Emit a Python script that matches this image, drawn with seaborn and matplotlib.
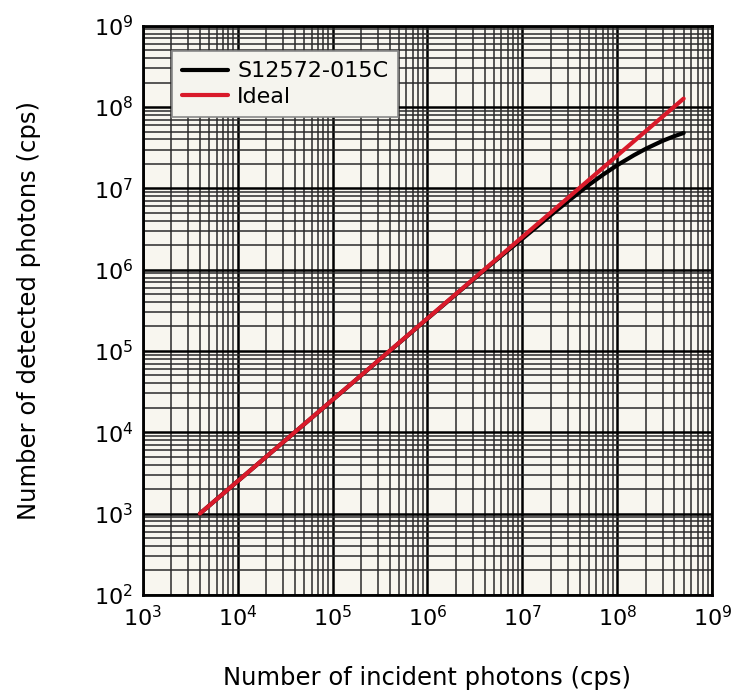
import numpy as np
import pandas as pd
import matplotlib
matplotlib.use("Agg")
import matplotlib.pyplot as plt
import matplotlib.ticker as mticker
import seaborn as sns

# 读取图中的数据点
incident_sipm = [4e3, 1e4, 1e5, 1e6, 5e6, 1e7, 2e7, 3e7, 5e7, 7e7, 1e8, 1.5e8, 2e8, 3e8, 4e8, 5e8]
detected_sipm = [1e3, 2.5e3, 2.5e4, 2.5e5, 1.24e6, 2.4e6, 4.7e6, 6.9e6, 1.1e7, 1.46e7, 1.93e7, 2.56e7, 3.07e7, 3.84e7, 4.39e7, 4.8e7]
incident_ideal = [4e3, 5e8]
detected_ideal = [1e3, 1.27e8]
series_names = ["S12572-015C", "Ideal"]
x_ticks = [1e3, 1e4, 1e5, 1e6, 1e7, 1e8, 1e9]
y_ticks = [1e2, 1e3, 1e4, 1e5, 1e6, 1e7, 1e8, 1e9]

df = pd.concat([
    pd.DataFrame({"incident": incident_sipm, "detected": detected_sipm, "series": series_names[0]}),
    pd.DataFrame({"incident": incident_ideal, "detected": detected_ideal, "series": series_names[1]}),
])

sns.set_style("ticks")
plt.rcParams["font.family"] = ["DejaVu Sans"]
plt.rcParams["text.color"] = "black"
plt.rcParams["axes.labelcolor"] = "black"
plt.rcParams["xtick.color"] = "black"
plt.rcParams["ytick.color"] = "black"

fig = plt.figure(figsize=(7.32, 6.95), dpi=100)
ax = fig.add_axes([0.195, 0.144, 0.778, 0.819])
ax.set_facecolor("#f8f6ef")

sns.lineplot(data=df, x="incident", y="detected", hue="series",
             palette={"S12572-015C": "black", "Ideal": "#d91a2a"},
             linewidth=3.0, ax=ax, sort=False, estimator=None)

ax.set_xscale("log")
ax.set_yscale("log")
ax.set_xlim(1e3, 1e9)
ax.set_ylim(1e2, 1e9)

ax.xaxis.set_major_locator(mticker.FixedLocator(x_ticks))
ax.yaxis.set_major_locator(mticker.FixedLocator(y_ticks))
ax.xaxis.set_major_formatter(mticker.LogFormatterSciNotation())
ax.yaxis.set_major_formatter(mticker.LogFormatterSciNotation())
ax.xaxis.set_minor_locator(mticker.LogLocator(base=10, subs=np.arange(2, 10), numticks=20))
ax.yaxis.set_minor_locator(mticker.LogLocator(base=10, subs=np.arange(2, 10), numticks=20))
ax.xaxis.set_minor_formatter(mticker.NullFormatter())
ax.yaxis.set_minor_formatter(mticker.NullFormatter())

ax.grid(which="major", color="black", linewidth=1.8)
ax.grid(which="minor", color="#2a2a2a", linewidth=1.1)
ax.set_axisbelow(True)
ax.tick_params(which="both", length=0, labelsize=16, pad=7)

for s in ax.spines.values():
    s.set_linewidth(2.0)
    s.set_color("black")

ax.set_xlabel("Number of incident photons (cps)", fontsize=17.5, labelpad=26)
ax.set_ylabel("Number of detected photons (cps)", fontsize=17.5, labelpad=38)

leg = ax.legend(loc="upper left", bbox_to_anchor=(0.051, 0.955), fontsize=16,
                frameon=True, fancybox=False, framealpha=1, handlelength=2.1,
                borderpad=0.45, labelspacing=0.25, handletextpad=0.4,
                borderaxespad=0)
leg.get_frame().set_facecolor("#f5f4ee")
leg.get_frame().set_edgecolor("#888888")
leg.get_frame().set_linewidth(1.2)
for line in leg.get_lines():
    line.set_linewidth(3.0)
leg.set_title(None)

fig.savefig("out.png", dpi=100)
